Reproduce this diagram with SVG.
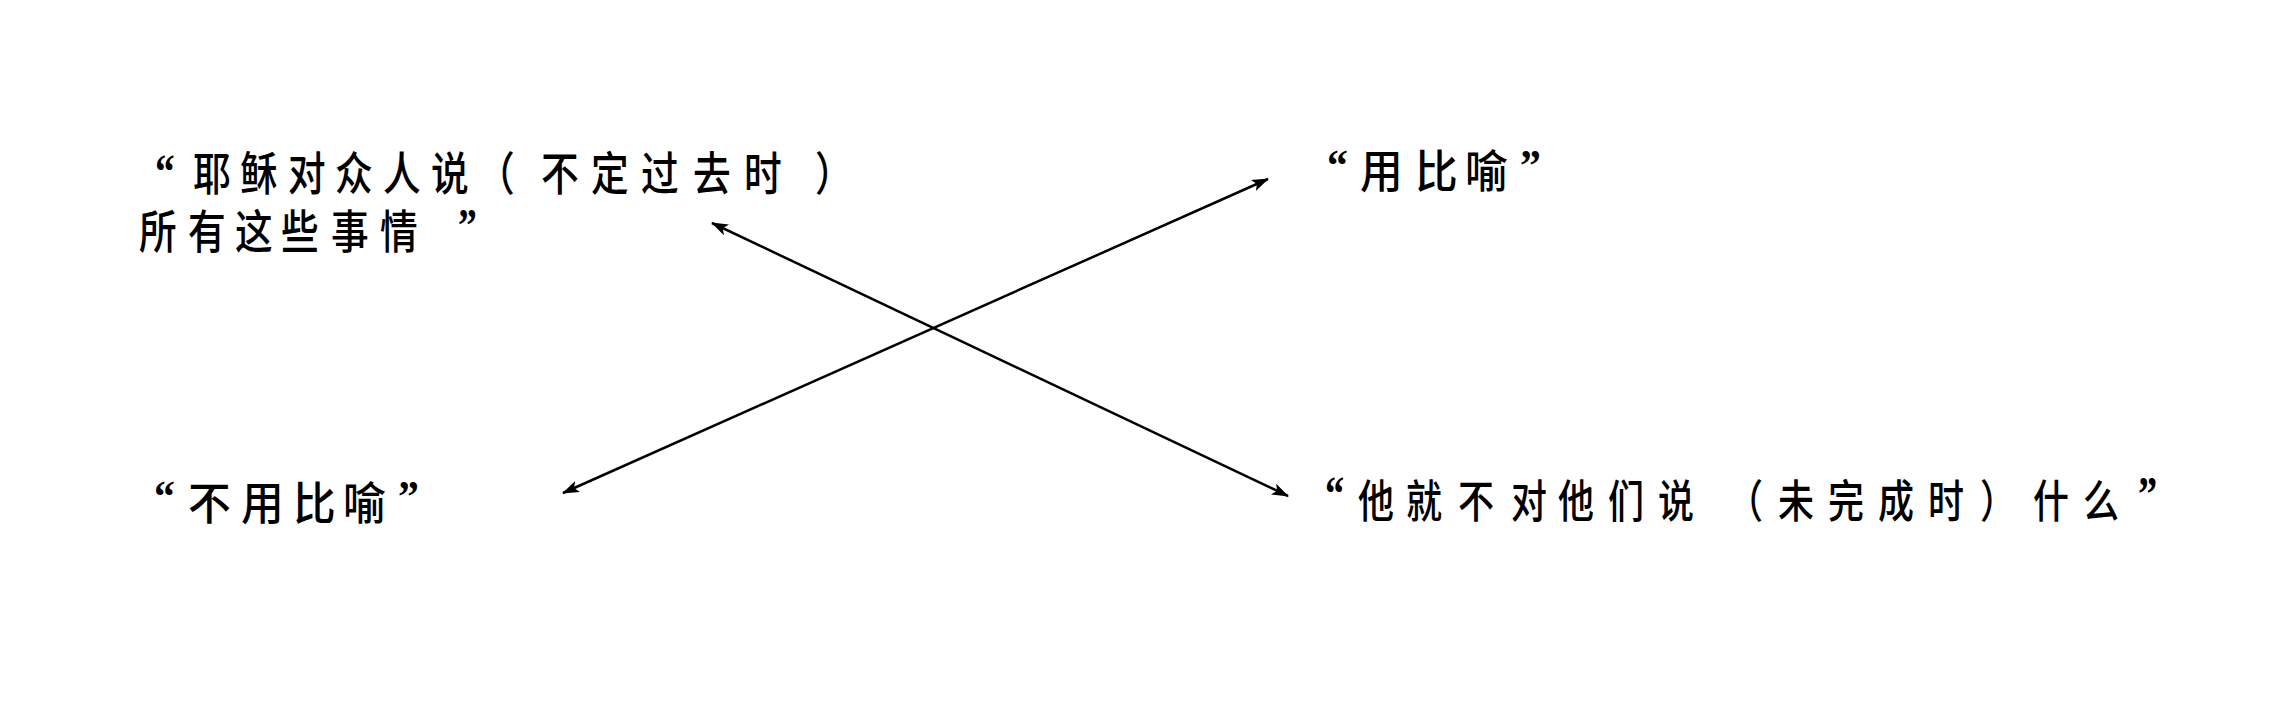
<svg xmlns="http://www.w3.org/2000/svg" width="2274" height="722" viewBox="0 0 2274 722">
<style>
.cjk{font-family:"Liberation Sans","Noto Sans CJK SC","Noto Sans CJK TC",sans-serif;font-weight:500;fill:#000;}
.q{font-family:"Liberation Serif","Times New Roman",serif;font-weight:bold;}
.conn{stroke:#000;stroke-width:2.5;fill:none;marker-start:url(#ah);marker-end:url(#ah);}
</style>
<defs>
<marker id="ah" markerUnits="userSpaceOnUse" markerWidth="17" markerHeight="12" refX="16" refY="6" orient="auto-start-reverse" viewBox="0 0 17 12">
<path d="M0,0 L17,6 L0,12 L4,6 z" fill="#000"/>
</marker>
</defs>
<rect width="2274" height="722" fill="#fff"/>
<g id="connectors">
<line class="conn" x1="563" y1="493" x2="1268" y2="179"/>
<line class="conn" x1="712" y1="223" x2="1288" y2="496"/>
</g>
<g id="node-jesus">
<text class="cjk" font-size="46" transform="scale(0.82,1)"><tspan class="q" font-size="48" x="189.02" y="188">“</tspan><tspan x="235.37 292.68 351.22 408.54 467.07 525.61 581.71 659.76 720.73 781.71 845.12 907.32 993.9" y="190">耶稣对众人说（不定过去时）</tspan></text>
<text class="cjk" font-size="46" transform="scale(0.82,1)"><tspan x="169.51 229.27 286.59 342.68 403.66 463.41" y="248">所有这些事情</tspan><tspan class="q" font-size="46" x="558.54" y="241">”</tspan></text>
</g>
<g id="node-parable">
<text class="cjk" font-size="45" transform="scale(0.95,1)"><tspan class="q" font-size="44" x="1396.84" y="180">“</tspan><tspan x="1431.58 1489.47 1542.11" y="188">用比喻</tspan><tspan class="q" font-size="44" x="1600" y="180">”</tspan></text>
</g>
<g id="node-noparable">
<text class="cjk" font-size="45" transform="scale(0.95,1)"><tspan class="q" font-size="44" x="162.1" y="511">“</tspan><tspan x="197.89 253.68 308.42 361.05" y="520">不用比喻</tspan><tspan class="q" font-size="44" x="418.95" y="511">”</tspan></text>
</g>
<g id="node-nothing">
<text class="cjk" font-size="45" transform="scale(0.8,1)"><tspan class="q" font-size="48" x="1656.25" y="510">“</tspan><tspan x="1697.5 1757.5 1822.5 1888.75 1947.5 2010 2072.5 2158.75 2222.5 2285 2347.5 2410 2475 2541.25 2603.75" y="518">他就不对他们说（未完成时）什么</tspan><tspan class="q" font-size="48" x="2672.5" y="510">”</tspan></text>
</g>
</svg>
